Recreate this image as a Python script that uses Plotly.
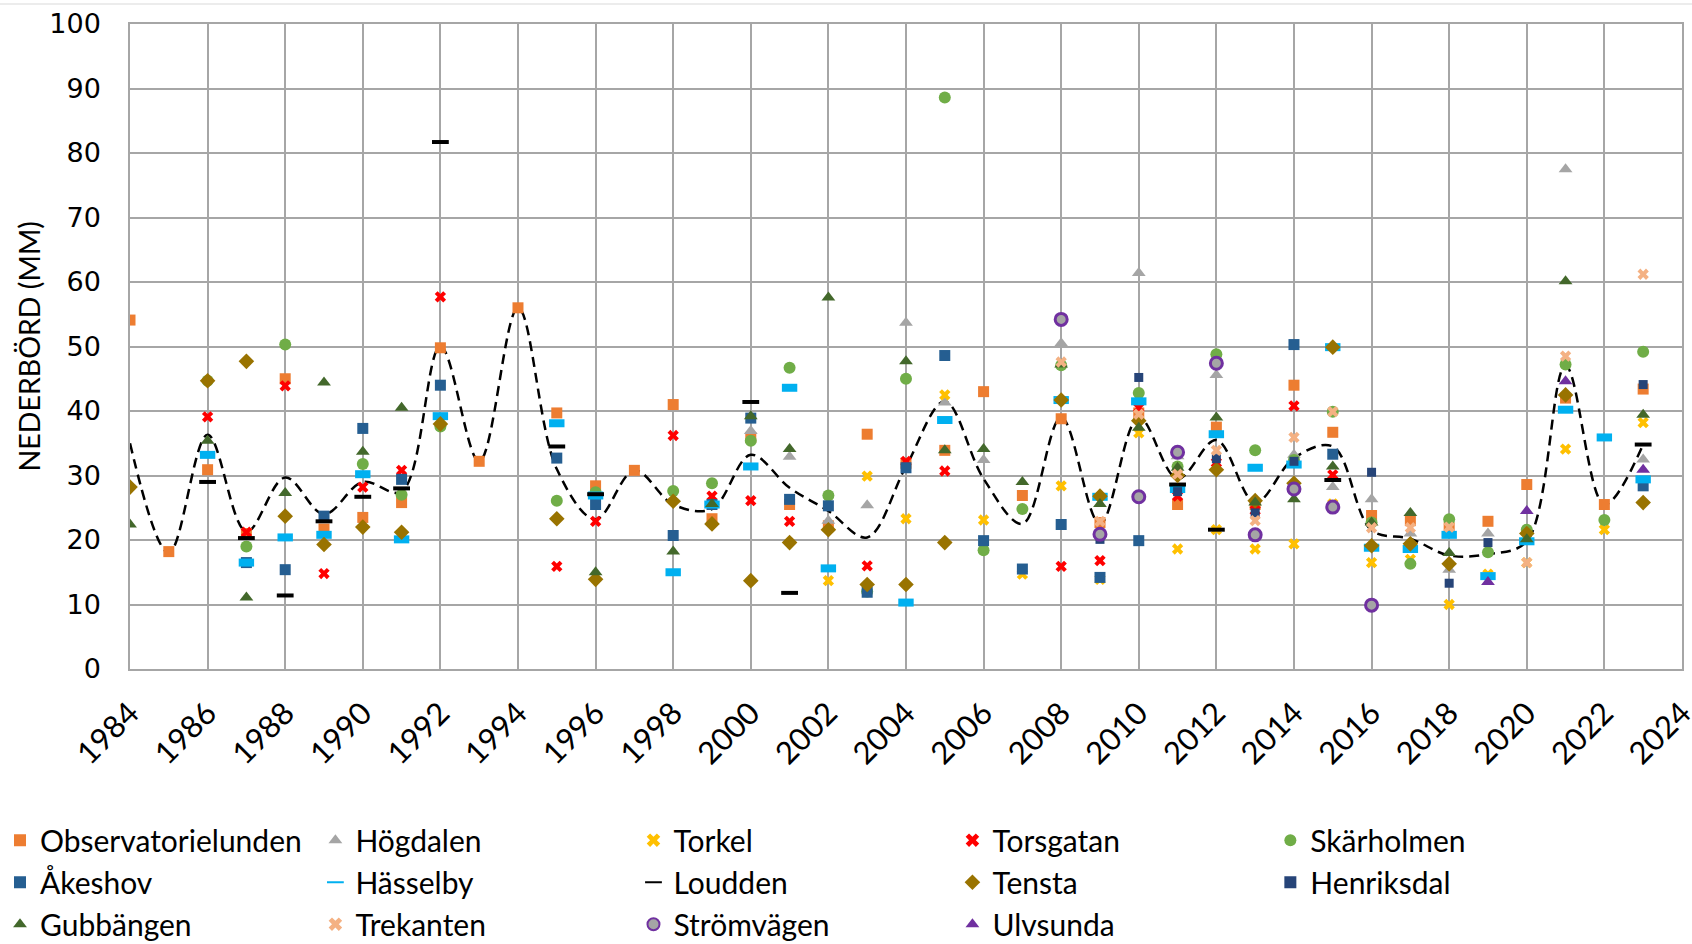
import plotly.graph_objects as go

years = list(range(1984, 2024))

def series(d):
    return [d.get(y) for y in years]

observatorielunden = series({1984: 54.1, 1985: 18.2, 1986: 30.9, 1987: 21.0, 1988: 45.0, 1989: 21.7, 1990: 23.5,
    1991: 25.8, 1992: 49.8, 1993: 32.2, 1994: 56.0, 1995: 39.7, 1996: 28.4, 1997: 30.8, 1998: 41.0,
    1999: 23.3, 2000: 35.9, 2001: 25.5, 2002: 22.2, 2003: 36.4, 2004: 31.9, 2005: 33.9, 2006: 43.0,
    2007: 26.9, 2008: 38.8, 2009: 22.7, 2010: 39.7, 2011: 25.5, 2012: 37.5, 2013: 25.5, 2014: 44.0,
    2015: 36.7, 2016: 23.8, 2017: 23.0, 2018: 21.9, 2019: 22.9, 2020: 28.6, 2021: 42.0, 2022: 25.5,
    2023: 43.4})
hogdalen = series({2000: 36.9, 2001: 32.9, 2002: 23.0, 2003: 25.4, 2004: 53.7, 2005: 41.3, 2006: 32.4,
    2008: 50.5, 2010: 61.4, 2011: 33.0, 2012: 45.6, 2014: 33.2, 2015: 28.2, 2016: 26.3, 2017: 21.0,
    2018: 15.4, 2019: 21.0, 2021: 77.5, 2023: 32.5})
torkel = series({2002: 13.7, 2003: 29.9, 2004: 23.3, 2005: 42.5, 2006: 23.1, 2007: 14.7, 2008: 28.4,
    2009: 13.9, 2010: 36.6, 2011: 18.6, 2012: 21.6, 2013: 18.6, 2014: 19.4, 2015: 25.6, 2016: 16.5,
    2017: 17.0, 2018: 10.0, 2019: 14.7, 2020: 16.5, 2021: 34.1, 2022: 21.6, 2023: 38.2})
torsgatan = series({1986: 39.1, 1987: 21.2, 1988: 43.9, 1989: 14.8, 1990: 28.2, 1991: 30.8, 1992: 57.7,
    1995: 15.9, 1996: 22.9, 1998: 36.2, 1999: 26.8, 2000: 26.1, 2001: 22.9, 2003: 16.0, 2004: 32.2,
    2005: 30.7, 2008: 15.9, 2009: 16.8, 2010: 40.5, 2011: 26.8, 2012: 32.0, 2013: 24.6, 2014: 40.8,
    2015: 30.1})
skarholmen = series({1986: 44.7, 1987: 19.0, 1988: 50.3, 1990: 31.8, 1991: 27.0, 1992: 37.6, 1995: 26.1,
    1996: 27.4, 1998: 27.6, 1999: 28.8, 2000: 35.4, 2001: 46.7, 2002: 26.9, 2003: 12.0, 2004: 45.0,
    2005: 88.6, 2006: 18.4, 2007: 24.8, 2008: 47.1, 2010: 42.8, 2011: 31.4, 2012: 48.8, 2013: 33.9,
    2014: 32.4, 2015: 39.9, 2016: 22.7, 2017: 16.3, 2018: 23.2, 2019: 18.1, 2020: 21.6, 2021: 47.2,
    2022: 23.1, 2023: 49.2})
akeshov = series({1987: 16.5, 1988: 15.4, 1989: 23.7, 1990: 37.3, 1991: 29.4, 1992: 44.0, 1995: 32.7,
    1996: 25.5, 1998: 20.7, 1999: 25.5, 2000: 38.9, 2001: 26.3, 2002: 25.3, 2003: 11.9, 2004: 31.2,
    2005: 48.6, 2006: 19.9, 2007: 15.5, 2008: 22.4, 2009: 14.2, 2010: 19.9, 2014: 50.3, 2015: 33.3,
    2023: 28.4})
hasselby = series({1986: 33.2, 1987: 16.5, 1988: 20.4, 1989: 20.8, 1990: 30.2, 1991: 20.1, 1992: 39.2,
    1995: 38.1, 1996: 26.9, 1998: 15.0, 1999: 25.5, 2000: 31.4, 2001: 43.6, 2002: 15.6, 2004: 10.3,
    2005: 38.6, 2008: 41.7, 2009: 26.7, 2010: 41.5, 2011: 27.9, 2012: 36.4, 2013: 31.2, 2014: 31.7,
    2015: 49.9, 2016: 18.8, 2017: 18.6, 2018: 20.8, 2019: 14.4, 2020: 19.8, 2021: 40.2, 2022: 35.9,
    2023: 29.4})
loudden = series({1986: 29.0, 1987: 20.3, 1988: 11.4, 1989: 22.9, 1990: 26.7, 1991: 28.0, 1992: 81.7,
    1995: 34.5, 1996: 27.1, 2000: 41.4, 2001: 11.8, 2011: 28.6, 2012: 21.6, 2015: 29.3, 2023: 34.8})
tensta = series({1984: 28.2, 1986: 44.7, 1987: 47.7, 1988: 23.7, 1989: 19.3, 1990: 22.0, 1991: 21.2,
    1992: 38.0, 1995: 23.3, 1996: 13.9, 1998: 26.0, 1999: 22.5, 2000: 13.7, 2001: 19.6, 2002: 21.6,
    2003: 13.1, 2004: 13.1, 2005: 19.6, 2008: 41.7, 2009: 26.8, 2010: 38.5, 2011: 30.0, 2012: 30.9,
    2013: 26.1, 2014: 28.8, 2015: 49.9, 2016: 19.1, 2017: 19.4, 2018: 16.3, 2020: 21.0, 2021: 42.5,
    2023: 25.8})
henriksdal = series({2009: 20.1, 2010: 45.2, 2011: 27.5, 2012: 32.6, 2013: 24.2, 2014: 32.2, 2016: 30.5,
    2018: 13.3, 2019: 19.6, 2023: 44.1})
gubbangen = series({1984: 22.4, 1986: 35.4, 1987: 11.1, 1988: 27.3, 1989: 44.4, 1990: 33.7, 1991: 40.5,
    1996: 15.0, 1998: 18.2, 1999: 25.6, 2000: 39.2, 2001: 34.1, 2002: 57.6, 2004: 47.7, 2005: 33.9,
    2006: 34.1, 2007: 29.0, 2008: 47.2, 2009: 25.6, 2010: 37.4, 2011: 31.2, 2012: 39.0, 2013: 25.8,
    2014: 26.3, 2015: 31.4, 2016: 22.7, 2017: 24.2, 2018: 18.0, 2020: 20.1, 2021: 60.1, 2023: 39.4})
trekanten = series({2008: 47.6, 2009: 22.9, 2010: 39.5, 2011: 30.2, 2012: 33.9, 2013: 23.0, 2014: 35.9,
    2015: 39.9, 2016: 21.9, 2017: 21.9, 2018: 22.0, 2020: 16.5, 2021: 48.5, 2023: 61.2})
stromvagen = series({2008: 54.2, 2009: 20.9, 2010: 26.7, 2011: 33.6, 2012: 47.4, 2013: 20.8, 2014: 27.9,
    2015: 25.1, 2016: 9.9})
ulvsunda = series({2019: 13.5, 2020: 24.5, 2021: 44.6, 2023: 30.9})

average = [35.0, 18.0, 36.3, 21.3, 29.7, 24.0, 29.0, 27.5, 50.0, 32.2, 56.0, 31.0, 23.2, 30.8, 25.5,
           24.8, 33.2, 28.1, 24.5, 20.4, 31.4, 41.5, 29.5, 22.5, 39.0, 22.5, 39.0, 29.5, 35.5, 25.8,
           32.7, 34.5, 21.5, 20.2, 17.6, 17.8, 19.8, 47.0, 25.5, 34.8]

y_ticks = list(range(0, 101, 10))
x_ticks = list(range(1984, 2025, 2))
y_title = "NEDERBÖRD (MM)"

fig = go.Figure()

fig.add_trace(go.Scatter(x=years, y=average, mode="lines", showlegend=False,
                         line=dict(color="black", width=2.5, dash="10px,6px", shape="spline", smoothing=1.0),
                         hoverinfo="skip"))

# (name, values, marker style, legend column)
styles = [
    ("Observatorielunden", observatorielunden, dict(symbol="square", color="#ED7D31", size=11), 1),
    ("Högdalen", hogdalen, dict(symbol="triangle-up", color="#A5A5A5", size=12), 2),
    ("Torkel", torkel, dict(symbol="x", color="#FFC000", size=10), 3),
    ("Torsgatan", torsgatan, dict(symbol="x", color="#FF0000", size=10), 4),
    ("Skärholmen", skarholmen, dict(symbol="circle", color="#70AD47", size=12), 5),
    ("Åkeshov", akeshov, dict(symbol="square", color="#255E91", size=11), 1),
    ("Hässelby", hasselby, dict(symbol="line-ew", color="#00B0F0", size=11, line=dict(color="#00B0F0", width=8)), 2),
    ("Loudden", loudden, dict(symbol="line-ew", color="black", size=12, line=dict(color="black", width=4)), 3),
    ("Tensta", tensta, dict(symbol="diamond", color="#997300", size=12), 4),
    ("Henriksdal", henriksdal, dict(symbol="square", color="#264478", size=9), 5),
    ("Gubbängen", gubbangen, dict(symbol="triangle-up", color="#43682B", size=12), 1),
    ("Trekanten", trekanten, dict(symbol="x", color="#F4B183", size=10), 2),
    ("Strömvägen", stromvagen, dict(symbol="circle", color="#A5A5A5", size=12, line=dict(color="#7030A0", width=3)), 3),
    ("Ulvsunda", ulvsunda, dict(symbol="triangle-up", color="#7030A0", size=12), 4),
]

for name, vals, mk, col in styles:
    if "line" not in mk:
        mk = dict(mk, line=dict(width=0))
    fig.add_trace(go.Scatter(x=years, y=vals, mode="markers", name=name, marker=mk,
                             legend="legend" if col == 1 else f"legend{col}", legendgroup=name))

fig.add_shape(type="line", xref="paper", yref="paper", x0=-0.084, x1=1.0065, y0=1.031, y1=1.031,
              line=dict(color="#D9D9D9", width=1))

fig.add_annotation(text=y_title, xref="paper", yref="paper", x=-0.0651, y=0.5,
                   xanchor="center", yanchor="middle", textangle=-90, showarrow=False,
                   font=dict(family="Lato", size=28.5, color="black"))

legend_x = [0.0, 0.1864, 0.3744, 0.5629, 0.7508]
legend_common = dict(orientation="v", xref="container", yref="container", y=0.1375,
                     xanchor="left", yanchor="top", font=dict(family="Lato", size=30),
                     itemsizing="constant", tracegroupgap=0, bgcolor="rgba(0,0,0,0)")

layout_legends = {}
for i, lx in enumerate(legend_x):
    key = "legend" if i == 0 else f"legend{i + 1}"
    layout_legends[key] = dict(legend_common, x=lx)

fig.update_layout(
    width=1692, height=944,
    margin=dict(l=130, r=10, t=24, b=275, autoexpand=False),
    plot_bgcolor="white", paper_bgcolor="white",
    font=dict(family="Lato", color="black"),
    xaxis=dict(range=[1984, 2024.001], tickvals=x_ticks, ticktext=[str(v) for v in x_ticks],
               tickangle=-45, tickfont=dict(family="Lato", size=31), automargin=False,
               ticklabeloverflow="allow",
               showgrid=True, gridcolor="#A6A6A6", gridwidth=1.5,
               showline=True, linecolor="#A6A6A6", linewidth=1.5, mirror=True,
               zeroline=False, ticks="outside", ticklen=12, tickcolor="rgba(0,0,0,0)"),
    yaxis=dict(range=[0, 100], tickvals=y_ticks, tickfont=dict(family="DejaVu Sans", size=27),
               automargin=False,
               showgrid=True, gridcolor="#A6A6A6", gridwidth=1.5,
               showline=True, linecolor="#A6A6A6", linewidth=1.5, mirror=True,
               zeroline=False, ticks="", ticklabelstandoff=22),
    **layout_legends,
)

fig.write_html("out.html", config={"displayModeBar": False},
               post_script="document.body.style.margin='0px';document.body.style.overflow='hidden';")
